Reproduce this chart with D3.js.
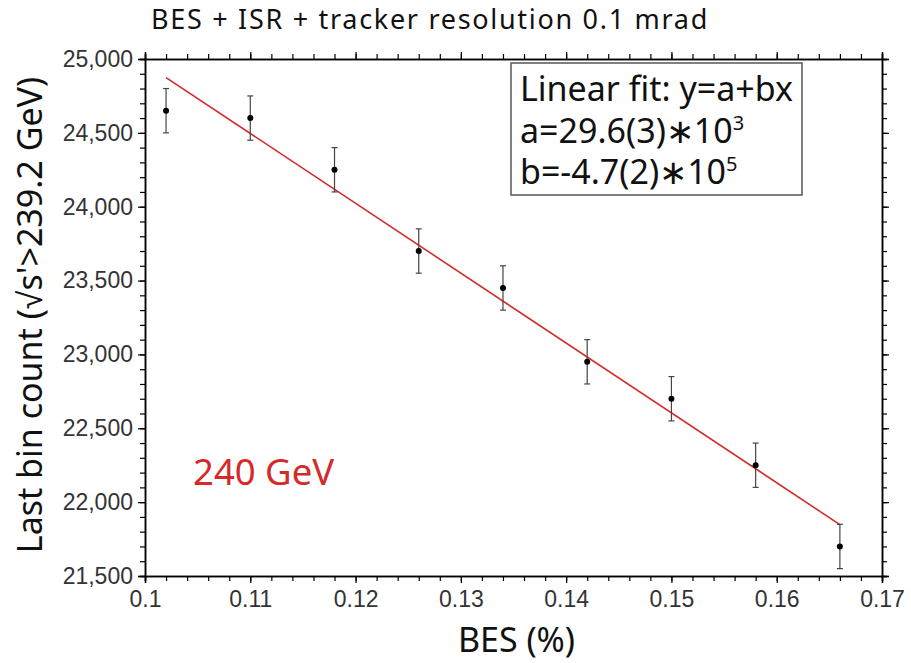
<!DOCTYPE html>
<html>
<head>
<meta charset="utf-8">
<script src="https://cdn.jsdelivr.net/npm/d3@7"></script>
<style>
  body { margin: 0; background: #fff; }
  svg { font-family: "Noto Sans", sans-serif; }
</style>
</head>
<body>
<div id="chart"></div>
<script>
// BES values (%) and last bin counts
const besValues = [0.102, 0.110, 0.118, 0.126, 0.134, 0.142, 0.150, 0.158, 0.166];
const binCounts = [24650, 24600, 24250, 23700, 23450, 22950, 22700, 22250, 21700];
const countErrors = [150, 150, 150, 150, 150, 150, 150, 150, 150];
const xTicks = [0.1, 0.11, 0.12, 0.13, 0.14, 0.15, 0.16, 0.17];
const yTicks = [21500, 22000, 22500, 23000, 23500, 24000, 24500, 25000];
const fitLines = ['Linear fit: y=a+bx', 'a=29.6(3)\u221710', 'b=-4.7(2)\u221710'];
const fitExps = ['', '3', '5'];

const width = 911, height = 663;
const margin = { top: 59, right: 29, bottom: 87, left: 145 };

const svg = d3.select('#chart').append('svg')
    .attr('width', width)
    .attr('height', height);

const x = d3.scaleLinear().domain([0.1, 0.17]).range([margin.left, width - margin.right]);
const y = d3.scaleLinear().domain([21500, 25000]).range([height - margin.bottom, margin.top]);

// minor ticks
const xMinor = d3.range(0.1, 0.1701, 0.002);
const yMinor = d3.range(21500, 25001, 100);

// axes on all four sides, ticks pointing outwards
function drawAxis(axis, transform, labels) {
    const g = svg.append('g').attr('transform', transform).call(axis);
    g.select('.domain').attr('stroke', '#000').attr('stroke-width', 1.5);
    g.selectAll('.tick line').attr('stroke', '#000').attr('stroke-width', 1.2);
    g.selectAll('.tick text')
        .attr('font-size', 23)
        .attr('fill', '#333');
    if (!labels) g.selectAll('.tick text').remove();
    return g;
}

const bottomY = height - margin.bottom;
drawAxis(d3.axisBottom(x).tickValues(xMinor).tickSize(5).tickFormat(''), `translate(0,${bottomY})`, false);
drawAxis(d3.axisBottom(x).tickValues(xTicks).tickSize(7).tickPadding(8).tickFormat(d3.format('')), `translate(0,${bottomY})`, true);
drawAxis(d3.axisTop(x).tickValues(xMinor).tickSize(5).tickFormat(''), `translate(0,${margin.top})`, false);
drawAxis(d3.axisTop(x).tickValues(xTicks).tickSize(7).tickFormat(''), `translate(0,${margin.top})`, false);
drawAxis(d3.axisLeft(y).tickValues(yMinor).tickSize(5).tickFormat(''), `translate(${margin.left},0)`, false);
drawAxis(d3.axisLeft(y).tickValues(yTicks).tickSize(7).tickPadding(5).tickFormat(d3.format(',')), `translate(${margin.left},0)`, true);
drawAxis(d3.axisRight(y).tickValues(yMinor).tickSize(5).tickFormat(''), `translate(${width - margin.right},0)`, false);
drawAxis(d3.axisRight(y).tickValues(yTicks).tickSize(7).tickFormat(''), `translate(${width - margin.right},0)`, false);

// least squares fit through the points
const xm = d3.mean(besValues), ym = d3.mean(binCounts);
const slope = d3.sum(besValues, (v, i) => (v - xm) * (binCounts[i] - ym)) /
    d3.sum(besValues, v => (v - xm) * (v - xm));
const intercept = ym - slope * xm;
const fitX = d3.extent(besValues);

svg.append('line')
    .attr('x1', x(fitX[0])).attr('y1', y(intercept + slope * fitX[0]))
    .attr('x2', x(fitX[1])).attr('y2', y(intercept + slope * fitX[1]))
    .attr('stroke', '#d42a2a')
    .attr('stroke-width', 1.6);

// error bars
const points = besValues.map((v, i) => ({ x: v, y: binCounts[i], e: countErrors[i] }));
const bars = svg.append('g').attr('stroke', '#444').attr('stroke-width', 1.2);
points.forEach(d => {
    bars.append('line')
        .attr('x1', x(d.x)).attr('x2', x(d.x))
        .attr('y1', y(d.y - d.e)).attr('y2', y(d.y + d.e));
    [d.y - d.e, d.y + d.e].forEach(v => {
        bars.append('line')
            .attr('x1', x(d.x) - 3).attr('x2', x(d.x) + 3)
            .attr('y1', y(v)).attr('y2', y(v));
    });
});

svg.append('g').selectAll('circle')
    .data(points)
    .enter().append('circle')
    .attr('cx', d => x(d.x))
    .attr('cy', d => y(d.y))
    .attr('r', 3)
    .attr('fill', '#000');

// fit box
svg.append('rect')
    .attr('x', 511).attr('y', 63)
    .attr('width', 291).attr('height', 132)
    .attr('fill', '#fff')
    .attr('stroke', '#555')
    .attr('stroke-width', 1.5);

fitLines.forEach((t, i) => {
    const txt = svg.append('text')
        .attr('x', 520)
        .attr('y', 101 + i * 41.5)
        .attr('font-size', 34)
        .attr('fill', '#111')
        .text(t);
    if (fitExps[i]) {
        txt.append('tspan')
            .attr('dy', -13)
            .attr('font-size', 20)
            .text(fitExps[i]);
    }
});

// energy label
svg.append('text')
    .attr('x', 193).attr('y', 485)
    .attr('font-size', 36.5)
    .attr('fill', '#d42a2a')
    .text('240 GeV');

// title and axis titles
svg.append('text')
    .attr('x', 151).attr('y', 29)
    .attr('font-size', 27)
    .attr('letter-spacing', 1.7)
    .attr('fill', '#111')
    .text('BES + ISR + tracker resolution 0.1 mrad');

svg.append('text')
    .attr('x', (margin.left + width - margin.right) / 2 + 3)
    .attr('y', 652)
    .attr('text-anchor', 'middle')
    .attr('font-size', 34)
    .attr('fill', '#111')
    .text('BES (%)');

svg.append('text')
    .attr('transform', 'translate(42,315) rotate(-90)')
    .attr('text-anchor', 'middle')
    .attr('font-size', 34)
    .attr('fill', '#111')
    .text("Last bin count (\u221As'>239.2 GeV)");
</script>
</body>
</html>
